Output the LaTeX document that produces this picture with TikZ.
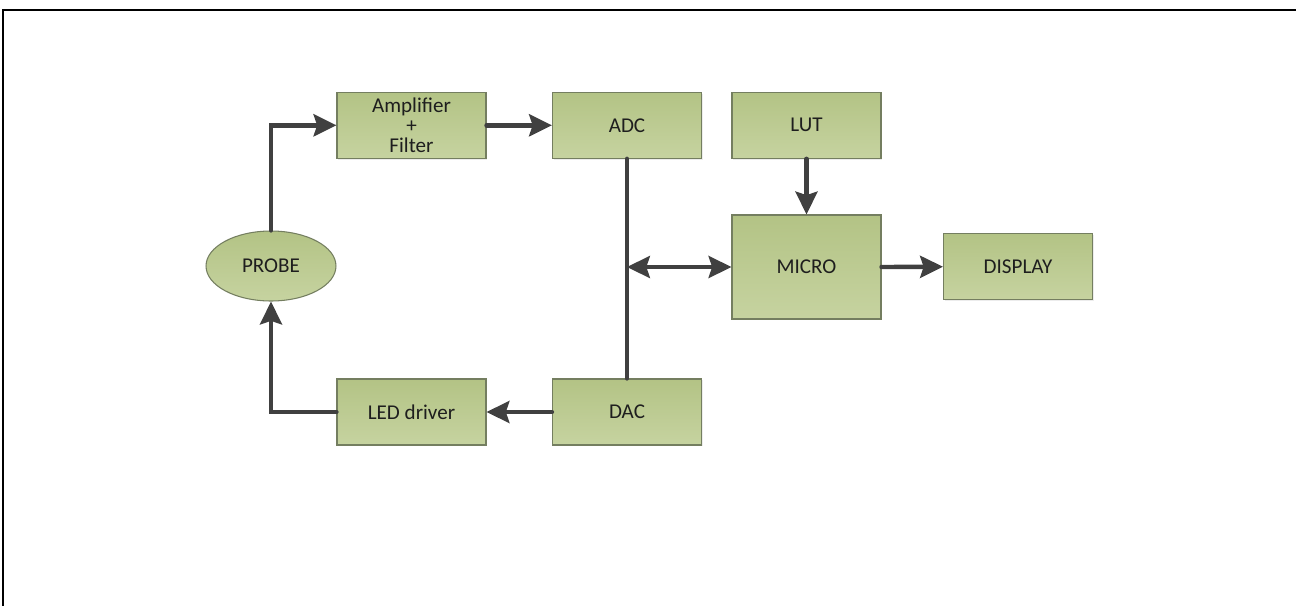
\documentclass[tikz,border=0pt]{standalone}
\usepackage{fontspec}
\setmainfont{Carlito}
\usetikzlibrary{arrows.meta,shapes.geometric,shadows}
\definecolor{BlockTop}{RGB}{179,195,133}
\definecolor{BlockBottom}{RGB}{198,211,160}
\definecolor{BlockEdge}{RGB}{116,126,96}
\definecolor{WireGray}{RGB}{64,64,64}
\definecolor{LabelGray}{RGB}{30,30,30}
\tikzset{
    block/.style={rectangle,draw=BlockEdge,line width=0.6pt,top color=BlockTop,bottom color=BlockBottom,
        minimum width=2.98cm,minimum height=1.32cm,inner sep=0pt,align=center,text=LabelGray,
        font=\fontsize{12}{11.4}\selectfont,drop shadow={opacity=0.15,shadow xshift=0.8pt,shadow yshift=-0.8pt}},
    probeblob/.style={ellipse,draw=BlockEdge,line width=0.6pt,top color=BlockTop,bottom color=BlockBottom,
        minimum width=2.6cm,minimum height=1.4cm,inner sep=0pt,text=LabelGray,font=\fontsize{12}{11.4}\selectfont},
    wire/.style={line width=2.5pt,WireGray,line cap=round},
    signal/.style={wire,-{Stealth[length=13pt,width=12.5pt,inset=2pt]}},
    bothways/.style={wire,{Stealth[length=13pt,width=12.5pt,inset=2pt]}-{Stealth[length=13pt,width=12.5pt,inset=2pt]}},
    frame/.style={line width=1.5pt,black}
}
\begin{document}
\begin{tikzpicture}[x=0.02cm,y=-0.02cm]
		\useasboundingbox (0,0) rectangle (1296,606);
		% outer frame (only top and left show)
		\draw[frame] (1296,10) -- (3,10) -- (3,606);
		% blocks
		\node[block] (amp) at (411.5,125.3) {Amplifier\\+\\Filter};
		\node[block] (adc) at (627,125.3) {ADC};
		\node[block] (lut) at (806.5,125.3) {LUT};
		\node[block,minimum height=2.08cm] (micro) at (806.5,267) {MICRO};
		\node[block] (display) at (1018,266.7) {DISPLAY};
		\node[block] (led) at (411.5,412) {LED driver};
		\node[block] (dac) at (627,412) {DAC};
		\node[probeblob] (probe) at (271,266) {PROBE};
		% connections
		\draw[signal] (probe.north) |- (amp.west);
		\draw[signal] (amp.east) -- (adc.west);
		\draw[wire] (adc.south) -- (dac.north);
		\coordinate (bus) at (adc.south |- micro.west);
		\draw[bothways] (bus) -- (micro.west);
		\draw[signal] (lut.south) -- (micro.north);
		\draw[signal] (micro.east) -- (display.west);
		\draw[signal] (dac.west) -- (led.east);
		\draw[signal] (led.west) -| (probe.south);
\end{tikzpicture}
\end{document}
